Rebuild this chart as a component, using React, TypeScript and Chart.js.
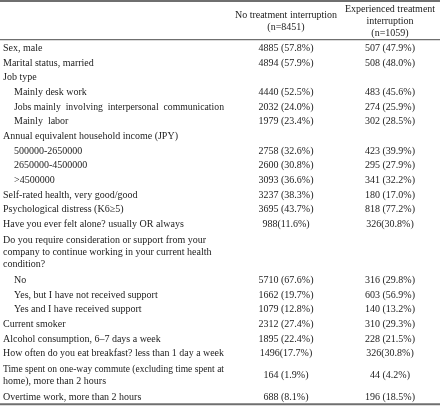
import React, { useEffect, useRef } from "react";
import { Chart, registerables } from "chart.js";

Chart.register(...registerables);

// ---------------- data ----------------
const columnHeaders: string[][] = [
  ["No treatment interruption", "(n=8451)"],
  ["Experienced treatment", "interruption", "(n=1059)"],
];

const rowLabels: string[] = [
  "Sex, male",
  "Marital status, married",
  "Job type",
  "Mainly desk work",
  "Jobs mainly  involving  interpersonal  communication",
  "Mainly  labor",
  "Annual equivalent household income (JPY)",
  "500000-2650000",
  "2650000-4500000",
  ">4500000",
  "Self-rated health, very good/good",
  "Psychological distress (K6\u22655)",
  "Have you ever felt alone? usually OR always",
  "Do you require consideration or support from your\ncompany to continue working in your current health\ncondition?",
  "No",
  "Yes, but I have not received support",
  "Yes and I have received support",
  "Current smoker",
  "Alcohol consumption, 6\u20137 days a week",
  "How often do you eat breakfast? less than 1 day a week",
  "Time spent on one-way commute (excluding time spent at\nhome), more than 2 hours",
  "Overtime work, more than 2 hours",
];

// 0 = main item, 1 = sub-category
const rowLevel: number[] = [0, 0, 0, 1, 1, 1, 0, 1, 1, 1, 0, 0, 0, 0, 1, 1, 1, 0, 0, 0, 0, 0];

const noInterruptionN: (number | null)[] = [
  4885, 4894, null, 4440, 2032, 1979, null, 2758, 2600, 3093, 3237, 3695, 988, null, 5710, 1662, 1079, 2312, 1895, 1496, 164, 688,
];
const noInterruptionPct: (number | null)[] = [
  57.8, 57.9, null, 52.5, 24.0, 23.4, null, 32.6, 30.8, 36.6, 38.3, 43.7, 11.6, null, 67.6, 19.7, 12.8, 27.4, 22.4, 17.7, 1.9, 8.1,
];
const interruptionN: (number | null)[] = [
  507, 508, null, 483, 274, 302, null, 423, 295, 341, 180, 818, 326, null, 316, 603, 140, 310, 228, 326, 44, 196,
];
const interruptionPct: (number | null)[] = [
  47.9, 48.0, null, 45.6, 25.9, 28.5, null, 39.9, 27.9, 32.2, 17.0, 77.2, 30.8, null, 29.8, 56.9, 13.2, 29.3, 21.5, 30.8, 4.2, 18.5,
];
// rows written as "n(%)" without a space in the source table
const compactFormat: boolean[] = [
  false, false, false, false, false, false, false, false, false, false, false, false, true, false, false, false, false, false, false, true, false, false,
];

// ---------------- layout ----------------
const W = 440;
const H = 406;
const FONT = '10px "Liberation Serif", "Times New Roman", serif';
const TEXT_COLOR = "#1c1c1c";
const RULE_COLOR = "#6f6f6f";
const ROW_PX = 14.67;
const LINE_PX = 12.2;
const MULTI_EXTRA_PX = 2;
const BODY_TOP = 40;
const BODY_BOTTOM = 403.4;
const X_LABEL = 3;
const X_INDENT = 11;
const X_LABEL_RIGHT = 224;
const X_COLS = [286, 390];
const BASELINE_SHIFT = 3.7;

const lineCount = (s: string) => s.split("\n").length;
const rowSpan = (lines: number) =>
  1 + ((lines - 1) * LINE_PX) / ROW_PX + (lines > 1 ? MULTI_EXTRA_PX / ROW_PX : 0);

const rowTops: number[] = [];
let acc = 0;
rowLabels.forEach((l) => {
  rowTops.push(acc);
  acc += rowSpan(lineCount(l));
});
const totalSpan = acc;

const fmt = (n: number | null, p: number | null, compact: boolean) =>
  n === null || p === null ? "" : `${n}${compact ? "" : " "}(${p.toFixed(1)}%)`;

const tablePlugin = {
  id: "tablePlugin",
  afterDraw(chart: any) {
    const { ctx, chartArea, scales } = chart;
    const x = scales.x;
    const y = scales.y;
    const linePx = Math.abs(y.getPixelForValue(LINE_PX / ROW_PX) - y.getPixelForValue(0));
    ctx.save();
    ctx.font = FONT;
    ctx.fillStyle = TEXT_COLOR;
    ctx.textBaseline = "alphabetic";

    // header
    const headerCenter = chartArea.top / 2 + 0.3;
    columnHeaders.forEach((lines, j) => {
      ctx.textAlign = "center";
      const cx = x.getPixelForValue(X_COLS[j]);
      lines.forEach((t, i) => {
        ctx.fillText(t, cx, headerCenter + (i - (lines.length - 1) / 2) * linePx + BASELINE_SHIFT);
      });
    });

    // body
    const rightEdge = x.getPixelForValue(X_LABEL_RIGHT);
    rowLabels.forEach((label, r) => {
      const lines = label.split("\n");
      const top = y.getPixelForValue(rowTops[r]);
      const bottom = y.getPixelForValue(rowTops[r] + rowSpan(lines.length));
      const center = (top + bottom) / 2;
      ctx.textAlign = "left";
      const lx = x.getPixelForValue(X_LABEL + rowLevel[r] * X_INDENT);
      lines.forEach((t, i) => {
        ctx.fillText(
          t,
          lx,
          center + (i - (lines.length - 1) / 2) * linePx + BASELINE_SHIFT,
          rightEdge - lx
        );
      });
      ctx.textAlign = "center";
      const v1 = fmt(noInterruptionN[r], noInterruptionPct[r], compactFormat[r]);
      const v2 = fmt(interruptionN[r], interruptionPct[r], compactFormat[r]);
      ctx.fillText(v1, x.getPixelForValue(X_COLS[0]), center + BASELINE_SHIFT);
      ctx.fillText(v2, x.getPixelForValue(X_COLS[1]), center + BASELINE_SHIFT);
    });

    // rules
    ctx.strokeStyle = RULE_COLOR;
    ctx.lineWidth = 2;
    ctx.beginPath();
    ctx.moveTo(0, 1);
    ctx.lineTo(W, 1);
    ctx.stroke();
    ctx.lineWidth = 1.3;
    ctx.beginPath();
    ctx.moveTo(0, chartArea.top - 0.3);
    ctx.lineTo(W, chartArea.top - 0.3);
    ctx.stroke();
    ctx.lineWidth = 2;
    ctx.beginPath();
    ctx.moveTo(0, chartArea.bottom + 0.8);
    ctx.lineTo(W, chartArea.bottom + 0.8);
    ctx.stroke();
    ctx.restore();
  },
};

export default function App() {
  const ref = useRef<HTMLCanvasElement | null>(null);
  useEffect(() => {
    document.body.style.margin = "0";
    const canvas = ref.current;
    if (!canvas) return;
    const chart = new Chart(canvas, {
      type: "scatter",
      data: { datasets: [] },
      options: {
        animation: false,
        responsive: false,
        devicePixelRatio: 1,
        events: [],
        layout: { padding: { top: BODY_TOP, bottom: H - BODY_BOTTOM, left: 0, right: 0 } },
        plugins: { legend: { display: false }, tooltip: { enabled: false } },
        scales: {
          x: { type: "linear", min: 0, max: W, display: false },
          y: { type: "linear", min: 0, max: totalSpan, reverse: true, display: false },
        },
      },
      plugins: [tablePlugin],
    });
    return () => chart.destroy();
  }, []);
  return (
    <div style={{ width: W, height: H, background: "#fff" }}>
      <canvas ref={ref} width={W} height={H} style={{ display: "block" }} />
    </div>
  );
}
